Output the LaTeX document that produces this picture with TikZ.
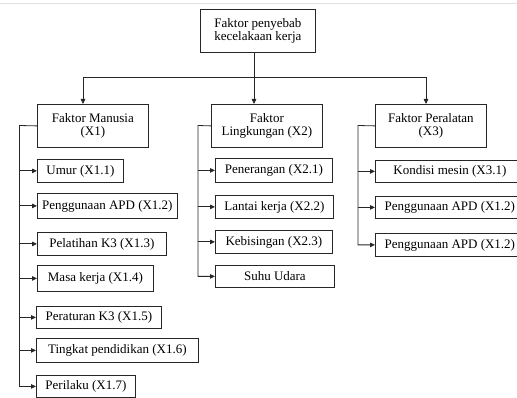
\documentclass[tikz,border=0pt]{standalone}
\usepackage{fontspec}
\setmainfont{Liberation Serif}
\usetikzlibrary{arrows.meta}
\tikzset{
  box/.style={draw=black!85, line width=0.8pt, anchor=north west, inner sep=0pt,
    align=center, font=\fontsize{13}{12.5}\selectfont, text=black},
  conn/.style={draw=black!85, line width=0.8pt},
  arr/.style={conn, -{Triangle[length=5pt,width=4.5pt]}},
}
\begin{document}
\begin{tikzpicture}[x=1pt,y=-1pt]
\useasboundingbox (0,0) rectangle (517,398);
\draw[black!12, line width=0.8pt] (0,3) -- (517,3);
% top
\node[box, minimum width=115pt, minimum height=43pt] (top) at (200,9) {Faktor penyebab\\kecelakaan kerja};
% level 1
\node[box, minimum width=111pt, minimum height=43pt] (x1) at (37,104) {Faktor Manusia\\(X1)};
\node[box, minimum width=111pt, minimum height=43pt] (x2) at (211,104) {Faktor\\Lingkungan (X2)};
\node[box, minimum width=111pt, minimum height=43pt] (x3) at (375,104) {Faktor Peralatan\\(X3)};
% X1 children
\node[box, minimum width=86pt, minimum height=23pt] (c11) at (37,159) {Umur (X1.1)};
\node[box, minimum width=140pt, minimum height=25pt] (c12) at (37,193) {Penggunaan APD (X1.2)};
\node[box, minimum width=129pt, minimum height=23pt] (c13) at (37,232) {Pelatihan K3 (X1.3)};
\node[box, minimum width=116pt, minimum height=26pt] (c14) at (37,265) {Masa kerja (X1.4)};
\node[box, minimum width=125pt, minimum height=22pt] (c15) at (36,306) {Peraturan K3 (X1.5)};
\node[box, minimum width=162pt, minimum height=24pt] (c16) at (36,338) {Tingkat pendidikan (X1.6)};
\node[box, minimum width=99pt, minimum height=22pt] (c17) at (36,375) {Perilaku (X1.7)};
% X2 children
\node[box, minimum width=117pt, minimum height=24pt] (c21) at (215,158) {Penerangan (X2.1)};
\node[box, minimum width=118pt, minimum height=23pt] (c22) at (215,195) {Lantai kerja (X2.2)};
\node[box, minimum width=117pt, minimum height=23pt] (c23) at (215,230) {Kebisingan (X2.3)};
\node[box, minimum width=119pt, minimum height=22pt] (c24) at (215,265) {Suhu Udara};
% X3 children
\node[box, minimum width=149pt, minimum height=22pt] (c31) at (375,160) {Kondisi mesin (X3.1)};
\node[box, minimum width=149pt, minimum height=22pt] (c32) at (375,196) {Penggunaan APD (X1.2)};
\node[box, minimum width=149pt, minimum height=23pt] (c33) at (375,233) {Penggunaan APD (X1.2)};
% top connectors
\coordinate (tb) at (254,52);
\coordinate (hl) at (83,77);
\coordinate (hr) at (426,77);
\draw[arr] (tb) -- (tb |- x2.north);
\draw[conn] (hl) -- (hr);
\draw[arr] (hl) -- (hl |- x1.north);
\draw[arr] (hr) -- (hr |- x3.north);
% brackets
\coordinate (b1) at (19.5,125.5);
\coordinate (b2) at (198,125.5);
\coordinate (b3) at (358,125.5);
\draw[arr] (x1.west) -- (b1) |- (c17.west);
\foreach \c in {c11,c12,c13,c14,c15,c16} \draw[arr] (b1 |- \c.west) -- (\c.west);
\draw[arr] (x2.west) -- (b2) |- (c24.west);
\foreach \c in {c21,c22,c23} \draw[arr] (b2 |- \c.west) -- (\c.west);
\draw[arr] (x3.west) -- (b3) |- (c33.west);
\foreach \c in {c31,c32} \draw[arr] (b3 |- \c.west) -- (\c.west);
\end{tikzpicture}
\end{document}
